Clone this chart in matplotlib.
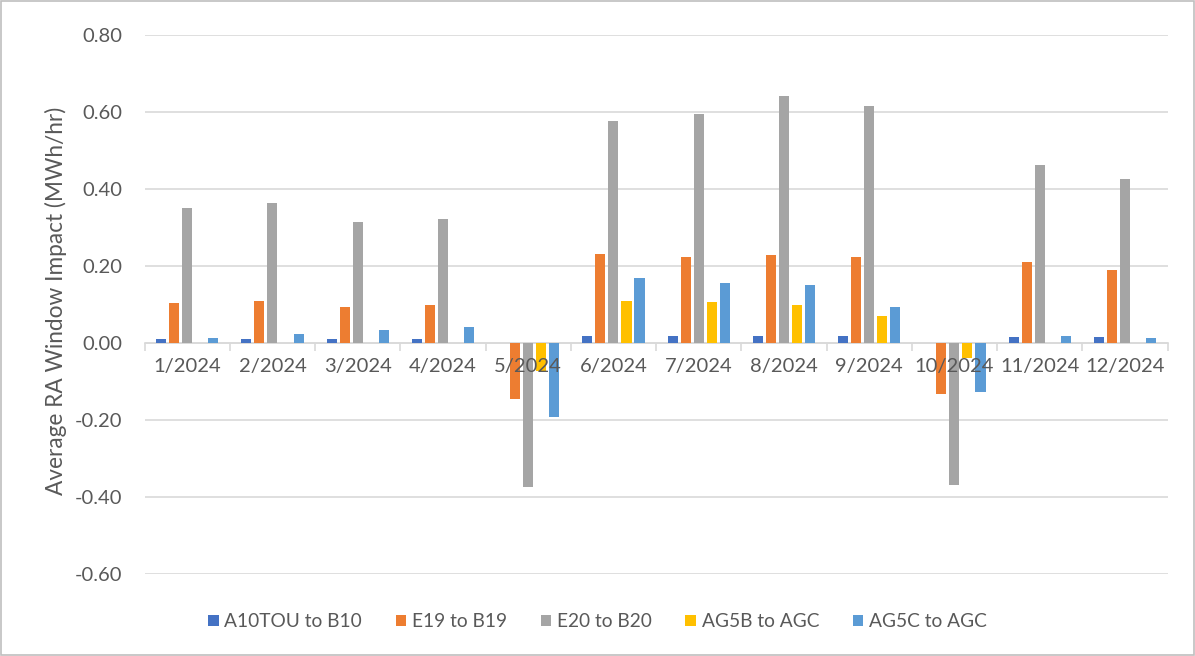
import numpy as np
import matplotlib.pyplot as plt
from matplotlib.patches import Rectangle

# monthly RA window impact by rate migration (MWh/hr)
months = ["1/2024", "2/2024", "3/2024", "4/2024", "5/2024", "6/2024",
          "7/2024", "8/2024", "9/2024", "10/2024", "11/2024", "12/2024"]
a10tou_b10 = [0.010, 0.010, 0.010, 0.010, 0.0, 0.018, 0.018, 0.018, 0.018, 0.0, 0.016, 0.016]
e19_b19 = [0.105, 0.108, 0.093, 0.099, -0.146, 0.232, 0.223, 0.230, 0.223, -0.133, 0.210, 0.191]
e20_b20 = [0.352, 0.363, 0.315, 0.321, -0.375, 0.577, 0.596, 0.643, 0.615, -0.370, 0.463, 0.427]
ag5b_agc = [0.0, 0.0, 0.0, 0.0, -0.072, 0.110, 0.107, 0.100, 0.069, -0.038, 0.0, 0.0]
ag5c_agc = [0.014, 0.023, 0.033, 0.042, -0.192, 0.170, 0.157, 0.151, 0.094, -0.127, 0.018, 0.012]

series = [
    ("A10TOU to B10", a10tou_b10, "#4472C4"),
    ("E19 to B19", e19_b19, "#ED7D31"),
    ("E20 to B20", e20_b20, "#A5A5A5"),
    ("AG5B to AGC", ag5b_agc, "#FFC000"),
    ("AG5C to AGC", ag5c_agc, "#5B9BD5"),
]

txt = "#595959"
fs = 14.5
plt.rcParams['font.family'] = ['Lato', 'DejaVu Sans']

fig = plt.figure(figsize=(11.95, 6.56), dpi=100)
ax = fig.add_axes([0.121, 0.125, 0.856, 0.8215])

x = np.arange(len(months))
pitch = 0.153
width = 0.118
for i, (name, vals, col) in enumerate(series):
    ax.bar(x + (i - 2) * pitch, vals, width, color=col, label=name, zorder=3)

ax.set_xlim(-0.5, len(months) - 0.5)
ax.set_ylim(-0.6, 0.8)
yt = np.arange(-0.6, 0.81, 0.2)
ax.set_yticks(yt)
ax.set_yticklabels([f"{v:.2f}" for v in yt])
ax.yaxis.grid(True, color="#D9D9D9", linewidth=1.2, zorder=0)

for s in ["top", "right", "left"]:
    ax.spines[s].set_visible(False)
ax.spines["bottom"].set_position(("data", 0))
ax.spines["bottom"].set_color("#D9D9D9")
ax.spines["bottom"].set_linewidth(1.2)
ax.spines["bottom"].set_zorder(2)
# month labels sit on top of the negative bars
ax.xaxis.set_zorder(4)

ax.set_xticks(x)
ax.set_xticklabels(months)
ax.set_xticks(np.arange(-0.5, len(months)), minor=True)
ax.tick_params(axis="x", which="major", length=0, pad=11, labelsize=fs, labelcolor=txt)
ax.tick_params(axis="x", which="minor", length=6, width=1.2, color="#D9D9D9")
ax.tick_params(axis="y", length=0, pad=16, labelsize=fs, labelcolor=txt)

fig.text(56 / 1195, 1 - 301 / 656, "Average RA Window Impact (MWh/hr)", rotation=90,
         ha="center", va="center", fontsize=16.3, color=txt)

fig.legend(loc="center", bbox_to_anchor=(0.5, 0.052), ncol=5, frameon=False,
           fontsize=13.8, labelcolor=txt, handlelength=0.55, handleheight=0.55,
           handletextpad=0.3, columnspacing=1.75)

fig.patches.append(Rectangle((0.001, 0.001), 0.998, 0.997, transform=fig.transFigure,
                             fill=False, edgecolor="#BFBFBF", linewidth=1.2))

fig.savefig("out.png", dpi=100)
